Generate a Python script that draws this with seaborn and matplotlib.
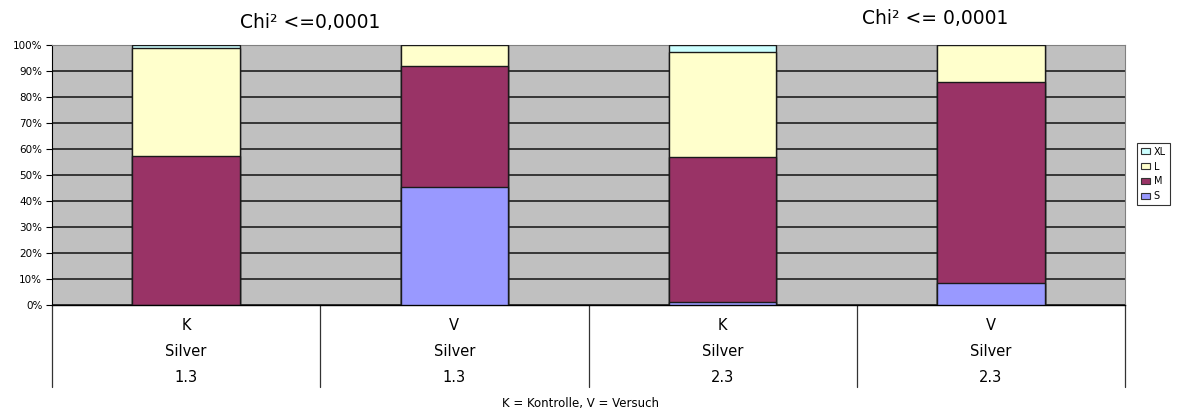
import matplotlib
matplotlib.use("Agg")
import matplotlib.pyplot as plt
import seaborn as sns
import pandas as pd
import numpy as np
from matplotlib.patches import Patch

# ---- data ----
groups = ["K\nSilver\n1.3", "V\nSilver\n1.3", "K\nSilver\n2.3", "V\nSilver\n2.3"]
row1 = ["K", "V", "K", "V"]
row2 = ["Silver", "Silver", "Silver", "Silver"]
row3 = ["1.3", "1.3", "2.3", "2.3"]
S = [0.0, 45.3, 1.0, 8.6]
M = [57.3, 46.6, 56.0, 77.0]
L = [41.5, 8.1, 40.3, 14.4]
XL = [1.2, 0.0, 2.7, 0.0]
sizes = ["S", "M", "L", "XL"]
colors = {"S": "#9999FF", "M": "#993366", "L": "#FFFFCC", "XL": "#CCFFFF"}
titles = ["Chi² <=0,0001", "Chi² <= 0,0001"]
yticks = list(range(0, 101, 10))

sns.set_theme(style="white")
plt.rcParams["font.family"] = ["DejaVu Sans"]
plt.rcParams["text.color"] = "black"
plt.rcParams["ytick.labelcolor"] = "black"
plt.rcParams["xtick.labelcolor"] = "black"

fig = plt.figure(figsize=(11.79, 4.12), dpi=100)
ax = fig.add_axes([52/1179, 107/412, (1125-52)/1179, 260/412])
ax.set_facecolor("#C0C0C0")

df = pd.DataFrame({"group": groups, "S": S, "M": M, "L": L, "XL": XL})
cum = df[sizes].cumsum(axis=1)

# draw cumulative bars from top layer down so each lower layer overlays
for s in ["XL", "L", "M", "S"]:
    d = pd.DataFrame({"group": groups, "val": cum[s].values})
    sns.barplot(data=d, x="group", y="val", order=groups, color=colors[s],
                saturation=1, width=0.4, edgecolor="#1a1a1a", linewidth=1.0,
                ax=ax, zorder=3)

ax.set_ylim(0, 100)
ax.set_xlim(-0.5, 3.5)
ax.set_yticks(yticks)
ax.set_yticklabels([f"{t}%" for t in yticks], fontsize=7.5, color="black")
ax.yaxis.grid(True, color="#111111", linewidth=1.1, zorder=0)
ax.set_axisbelow(True)
ax.tick_params(axis="y", length=4, width=0.8, color="black", pad=3, left=True)
ax.set_xticks([])
ax.set_xlabel("")
ax.set_ylabel("")
for sp in ["top", "right"]:
    ax.spines[sp].set_color("#808080")
    ax.spines[sp].set_linewidth(0.8)
ax.spines["left"].set_color("black")
ax.spines["bottom"].set_color("black")
ax.spines["left"].set_linewidth(0.8)
ax.spines["bottom"].set_linewidth(1.0)

# multi-level category labels with separators
trans = ax.get_xaxis_transform()
for i in range(5):
    ax.plot([i - 0.5, i - 0.5], [0, -82/260], transform=trans, color="#333333",
            linewidth=0.9, clip_on=False)
for i in range(4):
    ax.text(i, -20/260, row1[i], transform=trans, ha="center", va="center", fontsize=10.5, color="black")
    ax.text(i, -46/260, row2[i], transform=trans, ha="center", va="center", fontsize=10.5, color="black")
    ax.text(i, -73/260, row3[i], transform=trans, ha="center", va="center", fontsize=10.5, color="black")

fig.text(581/1179, 1 - 403/412, "K = Kontrolle, V = Versuch", ha="center", va="center", fontsize=8.5, color="black")
fig.text(310/1179, 1 - 22/412, titles[0], ha="center", va="center", fontsize=13.5, color="black")
fig.text(935/1179, 1 - 19/412, titles[1], ha="center", va="center", fontsize=13.5, color="black")

handles = [Patch(facecolor=colors[s], edgecolor="#333333", linewidth=0.8, label=s)
           for s in ["XL", "L", "M", "S"]]
leg = fig.legend(handles=handles, loc="center left", bbox_to_anchor=(1137/1179, 1 - 174/412),
                 fontsize=7, frameon=True, fancybox=False, handlelength=0.9,
                 handleheight=0.6, handletextpad=0.4, borderpad=0.4, labelspacing=0.5,
                 borderaxespad=0)
leg.get_frame().set_edgecolor("black")
leg.get_frame().set_linewidth(0.8)
for t in leg.get_texts():
    t.set_color("black")

fig.savefig("out.png", dpi=100)
